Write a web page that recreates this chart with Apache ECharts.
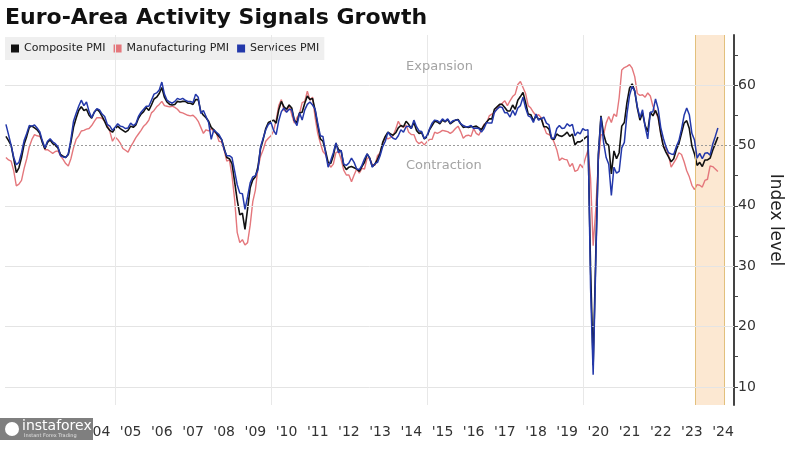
<!DOCTYPE html>
<html><head><meta charset="utf-8">
<script src="https://cdn.jsdelivr.net/npm/echarts@6/dist/echarts.min.js"></script>
<style>html,body{margin:0;padding:0;background:#fff}#c{width:787px;height:453px}</style>
</head><body><div id="c"></div>
<script>
// Monthly observations, first one June 2001, last one April 2024 (plotted at month end)
const startYear = 2001, startMonth = 6;
const composite = [
  51.5,50.8,50.0,47.8,45.5,46.3,48.0,
  50.2,51.5,53.0,53.2,52.9,52.6,52.0,50.5,49.4,50.5,50.9,50.3,
  50.0,49.6,48.5,48.2,48.0,48.5,50.5,53.0,54.5,55.8,56.4,55.8,
  56.0,55.0,54.5,55.5,56.0,55.6,54.8,54.0,53.0,52.5,52.2,52.8,
  53.2,52.8,52.5,52.2,52.5,53.2,53.0,53.4,54.5,55.2,55.6,56.3,
  55.8,56.7,57.7,58.0,58.6,59.6,58.0,57.2,56.8,56.7,56.8,57.3,
  57.2,57.3,57.3,57.0,57.0,56.8,57.6,57.6,55.6,55.0,54.6,54.0,
  53.0,52.6,52.0,51.5,51.0,49.5,48.0,47.8,47.0,44.0,41.0,38.5,
  38.8,36.1,39.5,43.0,44.3,44.8,46.5,49.5,51.0,52.8,53.8,54.0,
  54.2,53.7,55.9,57.3,56.4,56.0,56.7,56.2,54.1,53.8,55.4,55.5,
  57.0,58.2,57.6,57.8,55.8,53.3,51.1,50.7,49.1,47.2,47.0,48.3,
  50.4,49.3,49.1,46.7,46.0,46.4,46.5,46.3,46.1,45.7,46.5,47.2,
  48.6,47.9,46.5,46.9,47.7,48.7,50.5,51.5,52.2,51.9,51.7,52.1,
  52.9,53.3,53.1,54.0,53.5,52.8,53.8,52.5,52.0,52.1,51.1,51.4,
  52.6,53.3,54.0,53.9,53.6,54.2,53.9,54.3,53.6,53.9,54.2,54.3,
  53.6,53.0,53.1,53.0,53.1,53.1,53.2,52.9,52.6,53.3,53.9,54.4,
  54.4,56.0,56.4,56.8,56.8,56.3,55.7,55.7,56.7,56.0,57.5,58.1,
  58.8,57.1,55.2,55.1,54.1,54.9,54.3,54.5,53.1,53.1,52.7,51.1,
  51.0,51.9,51.6,51.5,51.8,52.2,51.5,51.9,50.1,50.6,50.6,50.9,
  51.3,51.6,29.7,13.6,31.9,48.5,54.9,51.9,50.4,50.0,45.3,49.1,
  47.8,48.8,53.2,53.8,57.1,59.5,60.2,59.0,56.2,54.2,55.4,53.3,
  52.3,55.5,54.9,55.8,54.8,52.0,49.9,48.9,48.1,47.3,47.8,49.3,
  50.3,52.0,53.7,54.1,52.8,49.9,48.6,46.7,47.2,46.5,47.6,47.6,
  47.9,49.2,50.3,51.4
];
const manufacturing = [
  48.0,47.6,47.4,45.8,43.3,43.6,44.2,
  46.2,47.8,49.8,51.0,51.8,51.6,51.5,50.8,49.3,49.3,49.0,48.7,
  49.0,49.1,48.3,47.7,47.0,46.6,47.8,49.6,51.0,51.6,52.4,52.5,
  52.7,52.8,53.3,54.0,54.6,54.6,54.5,54.0,53.4,52.3,50.7,51.4,
  51.0,50.4,49.5,49.2,48.9,49.8,50.5,51.3,51.9,52.5,53.2,53.6,
  54.2,55.4,55.8,56.4,56.8,57.3,56.6,56.5,56.4,56.5,56.3,56.0,
  55.5,55.4,55.2,55.0,54.9,55.0,54.6,54.0,53.0,52.0,52.6,52.4,
  52.8,52.3,52.0,50.7,50.6,49.2,47.4,47.6,45.0,41.1,35.6,33.9,
  34.4,33.5,33.9,36.8,40.7,42.6,46.3,48.2,49.3,50.7,51.2,51.6,
  52.4,54.2,56.6,57.6,55.8,55.6,56.7,55.1,53.7,54.6,55.3,57.1,
  57.3,59.0,57.5,58.0,54.6,52.0,50.4,49.0,48.5,47.1,46.4,46.9,
  48.8,49.0,47.7,45.9,45.1,45.1,44.0,45.1,46.1,45.4,46.2,46.1,
  47.9,47.9,46.8,46.7,48.3,48.8,50.3,51.4,51.1,51.3,51.6,52.7,
  54.0,53.2,53.0,53.4,52.2,51.8,51.8,50.7,50.3,50.6,50.1,50.6,
  51.0,51.0,52.2,52.0,52.2,52.5,52.4,52.3,52.0,52.3,52.8,53.2,
  52.3,51.2,51.6,51.7,51.5,52.8,52.0,51.7,52.6,53.5,53.7,54.9,
  55.2,55.4,56.2,56.7,57.0,57.4,56.6,57.4,58.1,58.5,60.1,60.6,
  59.6,58.6,56.6,56.2,55.5,54.9,55.1,54.6,53.2,52.0,51.8,51.4,
  50.5,49.3,47.5,47.9,47.7,47.6,46.5,47.0,45.7,45.9,46.9,46.3,
  47.9,49.2,44.5,33.4,39.4,47.4,51.8,51.7,53.7,54.8,53.8,55.2,
  54.8,57.9,62.5,62.9,63.1,63.4,62.8,61.4,58.6,58.3,58.4,58.0,
  58.7,58.2,56.5,55.5,54.6,52.1,49.8,49.6,48.4,46.4,47.1,47.8,
  48.8,48.5,47.3,45.8,44.8,43.4,42.7,43.5,43.4,43.1,44.2,44.4,
  46.6,46.5,46.1,45.7
];
const services = [
  53.5,51.8,50.0,48.0,46.8,47.2,48.8,
  50.8,52.0,53.3,53.2,53.4,52.9,52.3,50.8,49.6,50.7,51.1,50.6,
  50.3,49.8,48.3,48.1,48.0,48.6,51.0,54.0,55.3,56.5,57.5,56.6,
  57.2,55.6,54.6,55.5,56.1,55.9,55.2,54.8,53.5,53.2,52.5,53.0,
  53.6,53.2,53.1,52.8,52.9,53.7,53.3,53.6,54.8,55.5,56.0,56.5,
  56.5,57.5,58.5,58.7,59.2,60.5,58.5,57.5,57.2,57.0,57.3,57.8,
  57.6,57.8,57.5,57.3,57.3,57.1,58.5,58.0,55.3,55.8,54.8,53.8,
  51.0,52.6,52.2,51.8,51.0,49.3,48.3,48.3,48.0,45.8,43.5,42.1,
  42.0,39.4,41.5,43.8,44.8,45.0,46.0,49.8,51.2,52.6,53.5,53.8,
  52.5,51.8,54.1,55.6,56.2,55.5,56.0,55.9,54.1,53.3,55.4,54.2,
  55.9,56.8,57.2,56.7,56.0,53.7,51.6,51.5,48.8,46.4,47.5,48.8,
  50.4,48.8,49.2,46.9,46.7,47.1,47.9,47.2,46.1,46.0,46.7,47.8,
  48.6,47.9,46.4,47.0,47.2,48.3,49.8,50.7,52.2,51.6,51.2,51.0,
  51.6,52.6,52.2,53.1,53.2,52.8,54.2,53.1,52.4,52.3,51.1,51.6,
  52.7,53.7,54.2,54.1,53.8,54.4,54.0,54.4,53.7,54.1,54.2,54.2,
  53.6,53.3,53.1,53.1,53.3,52.8,52.9,52.8,52.2,52.8,53.8,53.7,
  53.7,55.5,56.0,56.4,56.3,55.4,55.4,54.7,55.8,55.0,56.2,56.6,
  58.0,56.2,54.9,54.7,53.8,55.2,54.2,54.4,54.7,53.7,53.4,51.2,
  51.2,52.8,53.3,52.8,52.9,53.6,53.2,53.5,51.6,52.2,51.9,52.8,
  52.5,52.6,26.4,12.0,30.5,48.3,54.7,50.5,48.0,46.9,41.7,46.4,
  45.4,45.7,49.6,50.5,55.2,58.3,59.8,59.0,56.4,54.6,55.9,53.1,
  51.1,55.5,55.6,57.7,56.1,53.0,51.2,49.8,48.8,48.6,48.5,49.8,
  50.8,52.7,55.0,56.2,55.1,52.0,50.9,47.9,48.7,47.8,48.7,48.8,
  48.4,50.2,51.5,52.9
];
const labelYears = [2002,2003,2004,2005,2006,2007,2008,2009,2010,2011,2012,2013,2014,2015,2016,2017,2018,2019,2020,2021,2022,2023,2024];
const gridYears = [2005, 2010, 2015, 2020];
const yLabelValues = [10, 20, 30, 40, 50, 60];
const yTickValues = [10, 15, 20, 25, 30, 35, 40, 45, 50, 55, 60, 65];
const yGridValues = [10, 20, 30, 40, 60];
const neutralLevel = 50;
const highlightRange = [2023.6, 2024.55];

function monthToYear(i) { return startYear + (startMonth + i) / 12; }
function toPairs(arr) { return arr.map((v, i) => [monthToYear(i), v]); }

const chart = echarts.init(document.getElementById('c'), null, { renderer: 'canvas' });
const FONT = 'DejaVu Sans';

chart.setOption({
  animation: false,
  backgroundColor: '#ffffff',
  title: {
    text: 'Euro-Area Activity Signals Growth',
    left: 0, top: 2,
    textStyle: { fontFamily: FONT, fontWeight: 'bold', fontSize: 22, color: '#111' }
  },
  legend: {
    left: 5, top: 37,
    backgroundColor: '#efefef',
    padding: [6, 5, 6, 6],
    itemWidth: 8, itemHeight: 8, itemGap: 8,
    icon: 'rect',
    itemStyle: { borderWidth: 0 },
    lineStyle: { width: 0 },
    textStyle: { fontFamily: FONT, fontSize: 11, color: '#222' },
    data: ['Composite PMI', 'Manufacturing PMI', 'Services PMI']
  },
  grid: { left: 5, right: 53, top: 35, bottom: 48, containLabel: false, outerBoundsMode: 'none' },
  xAxis: {
    type: 'value',
    min: 2001.47, max: 2024.85,
    splitLine: { show: false },
    axisLine: { show: false },
    axisTick: { show: false },
    axisLabel: {
      customValues: labelYears.map(y => y + 0.5),
      formatter: v => "'" + String(Math.floor(v)).slice(2),
      fontFamily: FONT, fontSize: 14, color: '#333', margin: 20
    }
  },
  yAxis: {
    type: 'value',
    position: 'right',
    min: 7, max: 68.3,
    splitLine: { show: false },
    axisLine: { show: true, lineStyle: { color: '#444', width: 2 } },
    axisTick: { show: true, customValues: yTickValues, length: 4, lineStyle: { color: '#444' } },
    axisLabel: { customValues: yLabelValues, fontFamily: FONT, fontSize: 14, color: '#333', margin: 4 },
    name: 'Index level',
    nameLocation: 'middle', nameRotate: -90, nameGap: 33,
    nameTextStyle: { fontFamily: FONT, fontSize: 17, color: '#222' }
  },
  graphic: [
    { type: 'text', left: 406, top: 60, z: 10, style: { text: 'Expansion', fontFamily: FONT, fontSize: 13, fill: '#a3a3a3' } },
    { type: 'text', left: 406, top: 159, z: 10, style: { text: 'Contraction', fontFamily: FONT, fontSize: 13, fill: '#a3a3a3' } },
    { type: 'rect', left: 0, top: 418, z: 100, shape: { width: 93, height: 22 }, style: { fill: '#7f7f7f' } },
    { type: 'text', left: 22, top: 419, z: 101, style: { text: 'instaforex', fontFamily: FONT, fontSize: 14, fill: '#ffffff' } },
    { type: 'text', left: 24, top: 433, z: 101, style: { text: 'Instant Forex Trading', fontFamily: FONT, fontSize: 5, fill: '#e0e0e0' } },
    { type: 'circle', left: 5, top: 422, z: 101, shape: { r: 7 }, style: { fill: '#ffffff' } }
  ],
  series: [
    {
      name: 'highlight', type: 'line', data: [], z: 0, silent: true,
      markArea: {
        silent: true,
        itemStyle: { color: '#fce8d2' },
        data: [[{ xAxis: highlightRange[0] }, { xAxis: highlightRange[1] }]]
      },
      markLine: {
        silent: true, symbol: ['none', 'none'], label: { show: false },
        lineStyle: { color: '#e2c07c', width: 1, type: 'solid' },
        data: highlightRange.map(v => ({ xAxis: v }))
      }
    },
    {
      name: 'grid', type: 'line', data: [], z: 1, silent: true,
      markLine: {
        silent: true, symbol: ['none', 'none'], label: { show: false },
        data: [
          ...yGridValues.map(v => ({ yAxis: v, lineStyle: { color: '#e4e4e4', width: 1, type: 'solid' } })),
          ...gridYears.map(v => ({ xAxis: v, lineStyle: { color: '#e8e8e8', width: 1, type: 'solid' } })),
          { yAxis: neutralLevel, lineStyle: { color: '#9a9a9a', width: 1, type: [2, 2] } }
        ]
      }
    },
    { name: 'Manufacturing PMI', type: 'line', data: toPairs(manufacturing), showSymbol: false, z: 3,
      lineStyle: { color: '#e4777c', width: 1.4 }, itemStyle: { color: '#e4777c' } },
    { name: 'Composite PMI', type: 'line', data: toPairs(composite), showSymbol: false, z: 4,
      lineStyle: { color: '#111111', width: 1.6 }, itemStyle: { color: '#111111' } },
    { name: 'Services PMI', type: 'line', data: toPairs(services), showSymbol: false, z: 5,
      lineStyle: { color: '#2338aa', width: 1.5 }, itemStyle: { color: '#2338aa' } }
  ]
});
</script></body></html>
